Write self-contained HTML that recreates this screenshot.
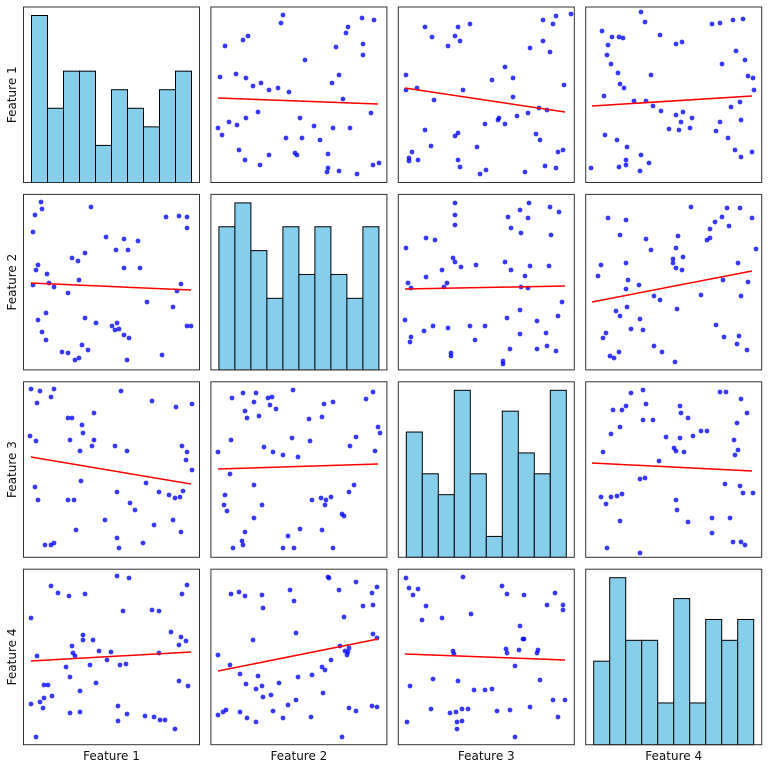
<!DOCTYPE html>
<html><head><meta charset="utf-8"><style>
body{margin:0;background:#fff;}
svg{display:block;font-family:"DejaVu Sans","Liberation Sans",sans-serif;}
</style></head><body>
<svg id="s" width="768" height="768" xmlns="http://www.w3.org/2000/svg"></svg>
<script>
const s=document.getElementById('s');
let h='';
const X0=[23.5,210.9,398.3,585.7],Y0=[7,194.4,381.8,569.2],W=176,H=175.5;
const hists={0:[9,4,6,6,2,5,4,3,5,6],1:[6,7,5,3,6,4,6,4,3,6],2:[6,4,3,8,4,1,7,5,4,8],3:[4,8,5,5,2,7,2,6,5,6]};
const P={
"0,1":[[283,15],[281,23],[248,36],[243,40],[225,46],[348,27],[374,20],[362,18],[346,33],[336,47],[363,44],[363,55],[305,60],[236,74],[246,78],[261,83],[253,86],[278,88],[269,90],[289,92],[220,77],[339,75],[332,83],[343,99],[371,113],[258,112],[246,118],[229,122],[218,128],[222,135],[237,125],[300,118],[314,126],[333,128],[350,128],[286,138],[302,138],[320,140],[328,154],[295,153],[297,155],[239,150],[245,160],[269,155],[328,168],[339,171],[327,172],[379,163],[373,165],[357,174],[260,165]],
"0,2":[[425,27],[458,27],[470,24],[455,36],[460,41],[432,37],[448,46],[553,24],[543,41],[550,52],[556,16],[543,20],[530,48],[406,75],[417,88],[406,90],[434,100],[463,90],[492,80],[505,67],[513,78],[513,97],[539,108],[547,110],[528,113],[564,85],[517,116],[499,118],[485,124],[505,124],[458,133],[455,136],[425,130],[412,152],[409,158],[431,146],[477,147],[536,134],[540,140],[558,152],[563,150],[556,168],[458,160],[460,167],[486,170],[480,174],[525,172],[545,166],[498,120],[418,160],[409,161],[571,14]],
"0,3":[[612,37],[608,45],[602,31],[619,37],[607,55],[611,64],[618,73],[623,38],[641,12],[645,22],[660,35],[676,44],[682,42],[620,84],[624,88],[604,96],[651,75],[634,101],[646,101],[653,106],[661,111],[676,115],[683,112],[681,122],[690,128],[669,129],[679,130],[692,118],[712,24],[720,23],[733,20],[743,19],[722,64],[736,51],[745,60],[748,76],[754,90],[753,78],[740,102],[731,107],[741,120],[720,122],[728,138],[716,131],[735,150],[741,157],[752,152],[605,135],[617,140],[627,147],[626,160],[641,155],[649,163],[619,167],[626,165],[640,171],[591,168]],
"1,0":[[41,202],[42,209],[35,215],[33,232],[91,207],[106,237],[124,239],[116,250],[128,250],[138,241],[179,216],[187,217],[166,217],[187,228],[140,268],[124,268],[72,258],[78,261],[79,280],[38,265],[36,270],[47,274],[49,283],[33,285],[54,287],[68,293],[46,313],[38,320],[85,318],[96,323],[117,323],[112,326],[173,307],[187,326],[191,326],[181,284],[177,291],[147,302],[119,329],[115,330],[124,335],[129,338],[62,352],[68,353],[82,345],[88,350],[46,340],[42,332],[75,360],[79,358],[127,360],[162,355],[85,253]],
"1,2":[[455,203],[455,215],[455,225],[426,238],[435,240],[406,248],[453,258],[455,262],[461,267],[442,270],[426,277],[408,283],[411,288],[447,283],[444,287],[476,265],[508,217],[521,233],[528,218],[520,210],[529,203],[550,207],[559,212],[551,235],[530,266],[549,266],[525,276],[505,262],[511,270],[528,288],[562,302],[558,316],[537,321],[546,333],[507,318],[520,334],[485,326],[470,326],[448,328],[433,326],[405,320],[411,337],[410,342],[424,331],[451,353],[451,356],[475,340],[503,361],[503,364],[510,349],[537,349],[547,346],[556,351],[520,310],[521,287],[511,228]],
"1,3":[[608,218],[626,220],[620,235],[646,239],[651,250],[626,263],[598,276],[601,265],[639,285],[628,280],[626,289],[654,296],[660,300],[627,307],[616,311],[620,316],[606,333],[603,338],[610,356],[614,358],[619,352],[631,329],[640,319],[643,330],[654,346],[662,352],[678,236],[676,248],[673,259],[683,257],[682,270],[676,268],[673,263],[691,207],[710,229],[710,238],[715,222],[722,217],[727,208],[740,208],[752,218],[756,249],[738,263],[748,282],[741,296],[723,280],[716,325],[724,337],[739,336],[737,344],[747,350],[701,295],[677,309],[675,362],[707,240],[729,226]],
"2,0":[[31,389],[40,391],[54,389],[51,397],[37,403],[121,391],[152,401],[176,407],[192,404],[68,418],[72,418],[94,413],[82,425],[83,433],[70,440],[94,440],[92,446],[80,451],[30,436],[36,441],[115,446],[127,451],[182,446],[187,452],[186,460],[192,470],[81,481],[146,483],[35,487],[38,500],[68,500],[74,500],[117,492],[130,503],[159,492],[169,495],[175,498],[180,497],[183,491],[154,525],[173,520],[181,532],[135,510],[105,520],[76,530],[45,545],[51,545],[54,543],[117,538],[119,548],[143,543]],
"2,1":[[232,398],[243,393],[256,393],[268,398],[272,397],[293,390],[254,402],[270,405],[276,409],[245,411],[259,416],[247,418],[324,404],[333,402],[366,399],[373,392],[322,417],[309,419],[310,441],[292,438],[264,447],[273,452],[283,455],[231,440],[218,452],[230,474],[254,485],[298,457],[356,437],[350,446],[378,427],[380,433],[375,451],[354,485],[349,492],[331,497],[326,500],[312,500],[321,498],[325,505],[344,516],[342,514],[225,495],[224,505],[227,511],[262,505],[254,518],[245,532],[243,545],[233,548],[242,541],[283,548],[288,536],[300,529],[322,530],[333,548],[294,548]],
"2,3":[[631,393],[643,390],[626,406],[613,410],[622,410],[646,404],[680,406],[681,413],[688,418],[643,420],[653,420],[666,437],[680,438],[693,436],[701,431],[707,431],[674,448],[676,451],[684,452],[720,392],[726,392],[741,399],[747,413],[737,423],[734,440],[738,450],[735,455],[620,427],[611,434],[603,452],[601,497],[611,497],[606,504],[617,496],[622,494],[640,479],[645,478],[620,521],[640,553],[676,500],[677,510],[688,522],[712,518],[725,484],[740,486],[743,493],[753,493],[730,518],[712,533],[733,542],[741,542],[745,545],[607,548],[659,461]],
"3,0":[[51,586],[58,593],[69,596],[85,594],[117,576],[129,578],[187,585],[182,594],[152,610],[159,611],[31,618],[123,611],[83,635],[83,640],[72,646],[93,640],[73,653],[75,656],[99,651],[37,656],[111,652],[126,664],[107,660],[120,665],[66,667],[90,665],[159,653],[186,641],[181,637],[171,632],[179,645],[96,683],[70,677],[44,685],[48,685],[44,698],[40,702],[31,704],[43,708],[52,696],[70,713],[80,691],[80,712],[118,706],[118,721],[127,714],[145,716],[160,720],[165,720],[175,729],[179,681],[188,686],[154,717],[36,737]],
"3,1":[[231,594],[239,592],[245,596],[262,595],[263,608],[290,590],[294,601],[328,577],[329,578],[339,590],[356,582],[363,606],[373,605],[377,587],[372,593],[296,633],[344,617],[340,646],[345,651],[348,652],[347,655],[331,660],[349,648],[322,667],[325,670],[312,675],[253,640],[218,655],[230,665],[240,674],[246,684],[258,676],[262,686],[256,689],[263,697],[271,695],[279,683],[298,677],[296,700],[288,705],[273,711],[226,710],[218,715],[223,712],[240,712],[247,718],[256,722],[283,718],[311,717],[323,693],[349,708],[356,711],[377,707],[372,706],[342,737],[377,638],[373,634]],
"3,2":[[406,578],[409,588],[413,595],[418,589],[426,606],[422,620],[442,618],[463,577],[471,614],[502,586],[507,594],[520,626],[524,595],[547,605],[555,593],[563,605],[563,610],[523,639],[524,639],[519,650],[506,649],[453,651],[454,654],[507,653],[537,653],[538,650],[515,666],[540,680],[410,686],[433,679],[458,681],[474,690],[485,690],[492,689],[431,709],[450,713],[456,712],[462,709],[457,722],[457,729],[462,721],[468,709],[497,711],[510,710],[530,707],[553,700],[565,700],[558,717],[407,722],[515,737]]
};
const L={"0,1":[218,98,378,104],"0,2":[405,88,565,112],"0,3":[592,106,752,96],"1,0":[31,283,191,290],"1,2":[405,289,565,286],"1,3":[592,302,752,271],"2,0":[31,457,191,484],"2,1":[218,469,378,464],"2,3":[592,463,752,471],"3,0":[31,661,191,652],"3,1":[218,671,378,639],"3,2":[405,654,565,660]};
for(let r=0;r<4;r++)for(let c=0;c<4;c++){
 const x=X0[c],y=Y0[r];
 if(r==c){
  const d=hists[r],m=Math.max(...d),u=167/m;
  d.forEach((v,i)=>{const bh=v*u;h+=`<rect x="${x+8+i*16}" y="${y+H-bh}" width="16" height="${bh}" fill="#87ceeb" stroke="#000" stroke-width="1"/>`;});
 }else{
  const k=r+","+c;
  P[k].forEach(p=>{h+=`<circle cx="${p[0]}" cy="${p[1]}" r="2.4" fill="#0000ff" fill-opacity="0.78"/>`;});
  const l=L[k];h+=`<line x1="${l[0]}" y1="${l[1]}" x2="${l[2]}" y2="${l[3]}" stroke="#ff0000" stroke-width="1.5"/>`;
 }
 h+=`<rect x="${x}" y="${y}" width="${W}" height="${H}" fill="none" stroke="#333" stroke-width="1"/>`;
}
for(let i=0;i<4;i++){
 h+=`<text x="${X0[i]+W/2}" y="760" font-size="12" text-anchor="middle" fill="#111">Feature ${i+1}</text>`;
 const cy=Y0[i]+H/2;
 h+=`<text x="16" y="${cy}" font-size="12" text-anchor="middle" fill="#111" transform="rotate(-90 16 ${cy})">Feature ${i+1}</text>`;
}
s.innerHTML=h;
</script>
</body></html>
